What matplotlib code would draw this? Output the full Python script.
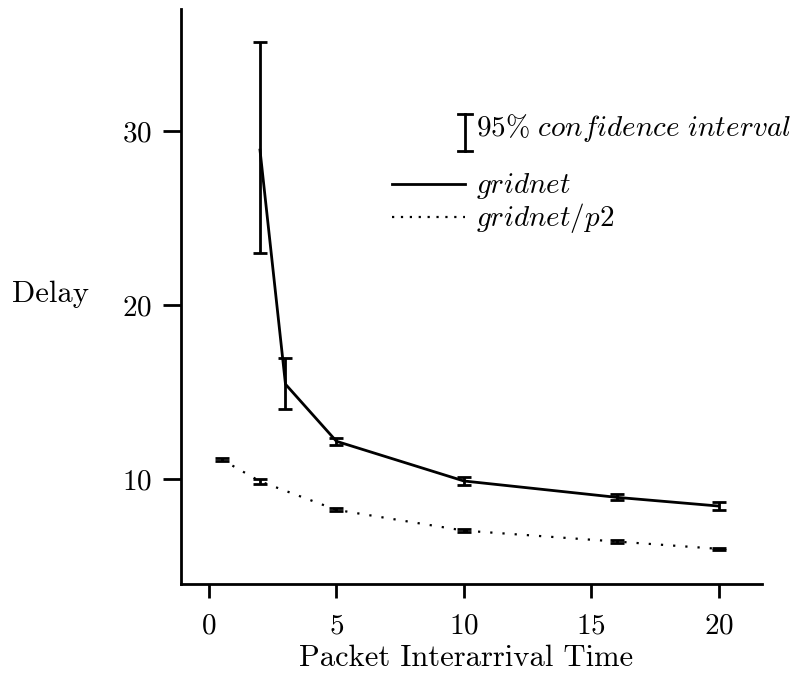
import matplotlib
matplotlib.use("Agg")
import matplotlib.pyplot as plt

# gridnet
gx = [2, 3, 5, 10, 16, 20]
gy = [28.9, 15.45, 12.17, 9.89, 8.95, 8.45]
g_lo = [23.0, 14.0, 11.97, 9.66, 8.77, 8.22]
g_hi = [35.1, 16.95, 12.37, 10.12, 9.13, 8.68]

# gridnet/p2
px = [0.5, 2, 5, 10, 16, 20]
py = [11.12, 9.87, 8.23, 7.04, 6.41, 5.99]
p_lo = [11.04, 9.73, 8.15, 6.97, 6.30, 5.92]
p_hi = [11.20, 10.01, 8.31, 7.11, 6.52, 6.06]

xticks = [0, 5, 10, 15, 20]
yticks = [10, 20, 30]

plt.rcParams['font.family'] = 'cmr10'
plt.rcParams['mathtext.fontset'] = 'cm'
plt.rcParams['axes.formatter.use_mathtext'] = True

fig = plt.figure(figsize=(8.03, 6.78), dpi=100)
ax = fig.add_axes([0.2254, 0.1386, 0.7236, 0.848])


def err(y, lo, hi):
    return [[a - b for a, b in zip(y, lo)], [b - a for a, b in zip(y, hi)]]


ax.errorbar(gx, gy, yerr=err(gy, g_lo, g_hi), color='black', lw=2,
            elinewidth=2, capsize=5, capthick=2)
ax.errorbar(px, py, yerr=err(py, p_lo, p_hi), color='black', lw=1.6,
            ls=(0, (1, 4.5)), elinewidth=2, capsize=5, capthick=2)

ax.set_xlim(-1.1, 21.7)
ax.set_ylim(3.97, 37.0)
ax.set_xticks(xticks)
ax.set_yticks(yticks)
for s in ['top', 'right']:
    ax.spines[s].set_visible(False)
for s in ['left', 'bottom']:
    ax.spines[s].set_linewidth(2)
ax.tick_params(direction='out', width=2, labelsize=21)
ax.tick_params(axis='x', length=10, pad=11)
ax.tick_params(axis='y', length=13, pad=8)

ax.set_xlabel('Packet Interarrival Time', fontsize=22)
ax.xaxis.set_label_coords(0.49, -0.106)
ax.set_ylabel('Delay', fontsize=22, rotation=0, ha='center', va='baseline')
ax.yaxis.set_label_coords(-0.224, 0.491)

# legend drawn by hand
tr = ax.transAxes
ax.plot([0.489, 0.489], [0.753, 0.817], transform=tr, color='black', lw=2)
ax.plot([0.477, 0.501], [0.753, 0.753], transform=tr, color='black', lw=2)
ax.plot([0.477, 0.501], [0.817, 0.817], transform=tr, color='black', lw=2)
ax.text(0.507, 0.779, r'$95\%\ confidence\ interval$', transform=tr,
        fontsize=21, va='baseline', ha='left')
ax.plot([0.363, 0.489], [0.696, 0.696], transform=tr, color='black', lw=2)
ax.text(0.507, 0.680, r'$gridnet$', transform=tr, fontsize=21, va='baseline')
ax.plot([0.363, 0.489], [0.639, 0.639], transform=tr, color='black', lw=1.6,
        ls=(0, (1, 3)))
ax.text(0.507, 0.622, r'$gridnet/p2$', transform=tr, fontsize=21, va='baseline')

fig.savefig('out.png', dpi=100)
